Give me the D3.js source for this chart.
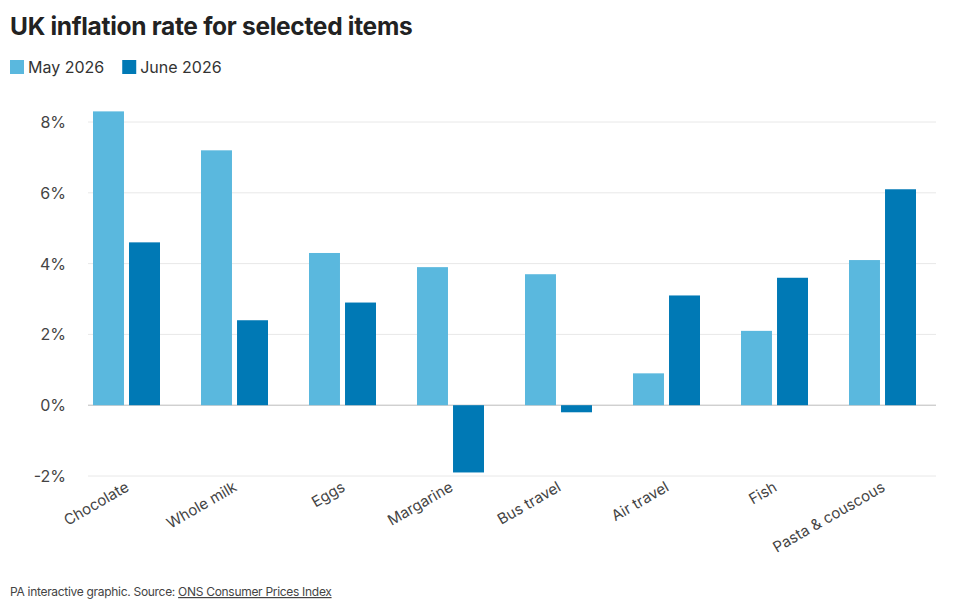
<!DOCTYPE html>
<html><head><meta charset="utf-8">
<script src="https://cdn.jsdelivr.net/npm/d3@7"></script>
<style>
body{margin:0;background:#fff;font-family:Inter,"Open Sans",sans-serif;}
text{font-family:Inter,"Open Sans",sans-serif;}
</style></head>
<body><div id="chart"></div>
<script>
const categories = ["Chocolate","Whole milk","Eggs","Margarine","Bus travel","Air travel","Fish","Pasta & couscous"];
const seriesNames = ["May 2026","June 2026"];
const may2026 = [8.3,7.2,4.3,3.9,3.7,0.9,2.1,4.1];
const june2026 = [4.6,2.4,2.9,-1.9,-0.2,3.1,3.6,6.1];
const yTicks = [-2,0,2,4,6,8];
const colors = ["#5ab8de","#0079b5"];

const W = 960, H = 611;
const svg = d3.select("#chart").append("svg").attr("width",W).attr("height",H);

svg.append("text").attr("x",10).attr("y",35).attr("font-size",24.5).attr("font-weight",700)
  .attr("fill","#222").attr("letter-spacing","-0.3").text("UK inflation rate for selected items");

// legend
let lx = 10;
seriesNames.forEach((s,i)=>{
  svg.append("rect").attr("x",lx).attr("y",60).attr("width",14).attr("height",14).attr("fill",colors[i]);
  const t = svg.append("text").attr("x",lx+18).attr("y",73).attr("font-size",16).attr("fill","#333").text(s);
  lx += 18 + t.node().getComputedTextLength() + 18;
});

const y = d3.scaleLinear().domain([-2,8]).range([476,122]);
const x0 = d3.scaleBand().domain(categories).range([88,952]);
const x1 = d3.scaleBand().domain(seriesNames).range([5,72]).paddingInner(0.14);

// grid
svg.append("g").selectAll("line").data(yTicks).join("line")
  .attr("x1",88).attr("x2",936).attr("y1",d=>y(d)).attr("y2",d=>y(d))
  .attr("stroke",d=>d===0?"#bbb":"#e8e8e8").attr("stroke-width",1);
svg.append("g").selectAll("text").data(yTicks).join("text")
  .attr("x",66).attr("y",d=>y(d)+6).attr("text-anchor","end").attr("font-size",16).attr("fill","#444")
  .text(d=>d+"%");

const data = categories.map((c,i)=>({c, vals:[may2026[i],june2026[i]]}));
const g = svg.append("g").selectAll("g").data(data).join("g")
  .attr("transform",d=>`translate(${x0(d.c)},0)`);
g.selectAll("rect").data(d=>d.vals.map((v,i)=>({s:seriesNames[i],v,i}))).join("rect")
  .attr("x",d=>x1(d.s)).attr("width",x1.bandwidth())
  .attr("y",d=>y(Math.max(0,d.v))).attr("height",d=>Math.abs(y(d.v)-y(0)))
  .attr("fill",d=>colors[d.i]);

// x labels
svg.append("g").selectAll("text").data(categories).join("text")
  .attr("transform",d=>`translate(${x0(d)+42},${490}) rotate(-30)`)
  .attr("text-anchor","end").attr("font-size",15).attr("fill","#444").text(d=>d);

const foot = svg.append("text").attr("x",10).attr("y",596).attr("font-size",12).attr("letter-spacing","-0.3").attr("fill","#444");
foot.append("tspan").text("PA interactive graphic. Source: ");
foot.append("tspan").attr("text-decoration","underline").text("ONS Consumer Prices Index");
</script></body></html>
